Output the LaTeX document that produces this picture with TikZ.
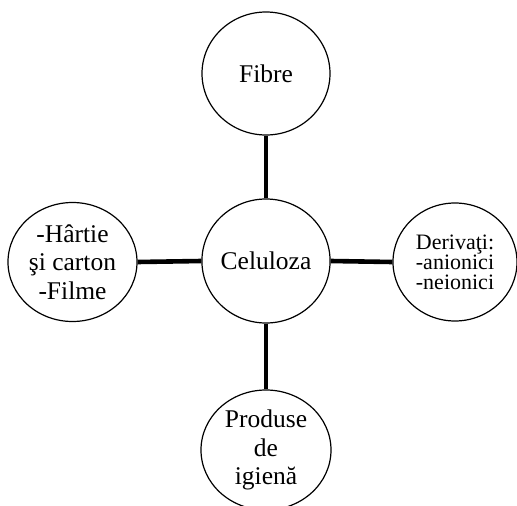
\documentclass[tikz,border=0pt]{standalone}
\usepackage{fontspec}
\setmainfont{Liberation Serif}
\usetikzlibrary{shapes.geometric}
\begin{document}
\begin{tikzpicture}[x=1pt,y=-1pt,
  bubble/.style={draw, ellipse, line width=1.2pt, inner sep=0pt, align=center,
    font=\fontsize{25.5}{28.5}\selectfont},
  link/.style={line width=4.6pt}]
\useasboundingbox (0,0) rectangle (517,506);
% central topic and its four branches
\node[bubble, minimum width=128pt, minimum height=124pt] (cel) at (266,261) {Celuloza};
\node[bubble, minimum width=128pt, minimum height=123pt] (fib) at (266,73.5) {Fibre};
\node[bubble, minimum width=129pt, minimum height=119pt] (har) at (72.5,262) {-Hârtie\\şi carton\\-Filme};
\node[bubble, minimum width=124pt, minimum height=118pt,
  font=\fontsize{22}{20}\selectfont] (der) at (455,262) {Derivaţi:\\-anionici\\-neionici};
\node[bubble, minimum width=130pt, minimum height=120pt] (pro) at (266,450) {Produse\\de\\igienă};
% thick connectors
\draw[link] (cel.north) -- (fib.south);
\draw[link] (cel.west) -- (har.east);
\draw[link] (cel.east) -- (der.west);
\draw[link] (cel.south) -- (pro.north);
\end{tikzpicture}
\end{document}
